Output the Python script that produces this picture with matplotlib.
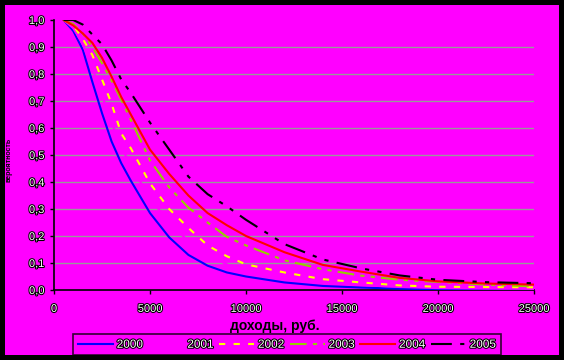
import matplotlib
matplotlib.use('Agg')
import matplotlib.pyplot as plt
import matplotlib.patheffects as pe
from matplotlib.patches import Rectangle
from matplotlib.ticker import FuncFormatter

# income, rub.
income = [500, 1000, 1500, 2000, 2500, 3000, 3500, 4000, 5000, 6000, 7000,
          8000, 9000, 10000, 12000, 14000, 16000, 18000, 20000, 22500, 25000]

s2000 = [1.0, 0.96, 0.89, 0.77, 0.655, 0.55, 0.47, 0.405, 0.285, 0.195, 0.13,
         0.09, 0.065, 0.05, 0.028, 0.015, 0.009, 0.005, 0.003, 0.002, 0.001]
s2001 = [1.0, 0.97, 0.91, 0.82, 0.72, 0.62, 0.53, 0.46, 0.34, 0.25, 0.18,
         0.13, 0.095, 0.072, 0.045, 0.028, 0.018, 0.011, 0.007, 0.005, 0.004]
s2002 = [1.0, 0.98, 0.93, 0.87, 0.78, 0.69, 0.58, 0.525, 0.395, 0.30, 0.23,
         0.165, 0.125, 0.095, 0.065, 0.04, 0.028, 0.017, 0.012, 0.011, 0.01]
s2003 = [1.0, 0.985, 0.95, 0.9, 0.84, 0.775, 0.705, 0.63, 0.48, 0.38, 0.305,
         0.25, 0.197, 0.165, 0.11, 0.077, 0.053, 0.038, 0.03, 0.02, 0.013]
s2004 = [1.0, 0.98, 0.95, 0.915, 0.86, 0.79, 0.715, 0.65, 0.52, 0.43, 0.35,
         0.285, 0.24, 0.2, 0.14, 0.093, 0.068, 0.045, 0.032, 0.024, 0.02]
s2005 = [1.0, 1.0, 0.983, 0.946, 0.91, 0.85, 0.78, 0.73, 0.62, 0.52, 0.42,
         0.355, 0.31, 0.26, 0.17, 0.113, 0.08, 0.054, 0.038, 0.029, 0.025]

years = ['2000', '2001', '2002', '2003', '2004', '2005']
series = [s2000, s2001, s2002, s2003, s2004, s2005]
colors = ['#0000FF', '#FF00FF', '#FFFF00', '#99CC00', '#FF0000', '#000000']
styles = ['-', '-', (0, (3, 4)), (0, (8, 3, 2, 3, 2, 3)), '-', (0, (10, 4, 2, 4, 2, 4))]

MAG = '#FF00FF'
plt.rcParams['font.family'] = ['Liberation Sans', 'DejaVu Sans']

fig = plt.figure(figsize=(5.64, 3.6), dpi=100, facecolor='black')
fig.patches.append(Rectangle((5 / 564, 5 / 360), 554 / 564, 350 / 360,
                             transform=fig.transFigure, facecolor=MAG,
                             edgecolor='none', zorder=-10))

ax = fig.add_axes([54 / 564, 70 / 360, 480 / 564, 270 / 360])
ax.set_facecolor(MAG)

for y in [0.1, 0.2, 0.3, 0.4, 0.5, 0.6, 0.7, 0.8, 0.9]:
    ax.axhline(y, color='#999999', lw=1.0, zorder=1)

for yr, s, c, ls in zip(years, series, colors, styles):
    ax.plot(income, s, color=c, linestyle=ls, lw=1.5, label=yr, zorder=3)

ax.set_xlim(0, 25000)
ax.set_ylim(0, 1.0)
ax.set_xticks([0, 5000, 10000, 15000, 20000, 25000])
ax.set_yticks([i / 10 for i in range(11)])
ax.yaxis.set_major_formatter(FuncFormatter(lambda v, p: f'{v:.1f}'.replace('.', ',')))
ax.xaxis.set_major_formatter(FuncFormatter(lambda v, p: f'{int(v)}'))

for side in ['top', 'right']:
    ax.spines[side].set_visible(False)
for side in ['left', 'bottom']:
    ax.spines[side].set_color('black')
    ax.spines[side].set_linewidth(1.2)

ax.tick_params(axis='both', direction='out', length=3, width=1, color='black',
               labelsize=8, labelcolor='white')
ax.tick_params(axis='y', pad=4)
ax.tick_params(axis='x', pad=7)
outline = [pe.withStroke(linewidth=1.5, foreground='black')]
for lab in ax.get_xticklabels() + ax.get_yticklabels():
    lab.set_path_effects(outline)

fig.text(275 / 564, 1 - 326 / 360, 'доходы, руб.', ha='center', va='center',
         fontsize=10, fontweight='bold', color='black')
fig.text(9 / 564, 1 - 160 / 360, 'вероятность', ha='center', va='center',
         rotation=90, fontsize=5, fontweight='bold', color='black')

leg = fig.legend(loc='upper left', bbox_to_anchor=(73 / 564, 1 - 334 / 360),
                 ncol=6, fontsize=8.5, frameon=True, fancybox=False,
                 handlelength=3.0, handletextpad=0.3, columnspacing=0.45,
                 borderpad=0.4, borderaxespad=0)
leg.get_frame().set_facecolor(MAG)
leg.get_frame().set_edgecolor('black')
leg.get_frame().set_linewidth(1.2)
for t in leg.get_texts():
    t.set_color('white')
    t.set_path_effects(outline)

fig.savefig('out.png', dpi=100, facecolor='black')
